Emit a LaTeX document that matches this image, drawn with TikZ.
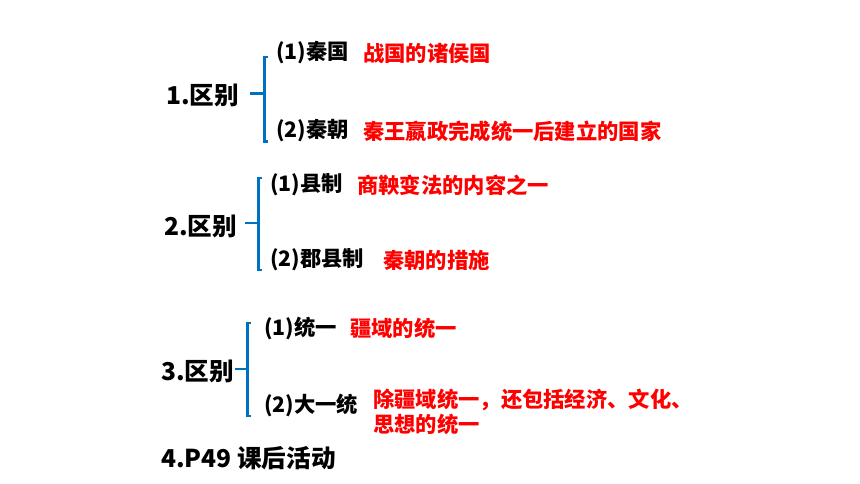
\documentclass[tikz,border=0pt]{standalone}
\usepackage{fontspec}
\setmainfont{Noto Sans CJK SC}
\definecolor{bracketblue}{RGB}{0,112,192}
\begin{document}
\begin{tikzpicture}[x=1pt,y=1pt]
\tikzstyle{every node}+=[inner sep=0pt,anchor=west,font=\bfseries\fontsize{21.3}{25}\selectfont]
\tikzstyle{head}=[font=\bfseries\fontsize{24.6}{28}\selectfont]
\tikzstyle{answer}=[red]
\tikzstyle{brace}=[bracketblue,line width=2.2pt]
\useasboundingbox (0,0) rectangle (860,-484);
% 1. qin guo / qin chao
\node [head] (h1) at (166,-95) {1.区别};
\coordinate (b1t) at (268,-57);
\coordinate (b1m) at (264.5,-93.5);
\coordinate (b1b) at (268,-141.5);
\draw [brace] (b1t) -- ++(-3.5,0) |- (b1b);
\draw [brace] (b1m) -- ++(-14.5,0);
\node (i11) at (276,-53) {(1)秦国};
\node [answer] (a11) at (363,-53) {战国的诸侯国};
\node (i12) at (276,-131) {(2)秦朝};
\node [answer] (a12) at (363,-131) {秦王嬴政完成统一后建立的国家};
% 2. xian zhi / jun xian zhi
\node [head] (h2) at (164,-226) {2.区别};
\coordinate (b2t) at (262,-178);
\coordinate (b2m) at (258.5,-223);
\coordinate (b2b) at (262,-270);
\draw [brace] (b2t) -- ++(-3.5,0) |- (b2b);
\draw [brace] (b2m) -- ++(-13.5,0);
\node (i21) at (270,-185) {(1)县制};
\node [answer] (a21) at (357,-185) {商鞅变法的内容之一};
\node (i22) at (270,-260) {(2)郡县制};
\node [answer] (a22) at (383,-260) {秦朝的措施};
% 3. tong yi / da yi tong
\node [head] (h3) at (161,-371) {3.区别};
\coordinate (b3t) at (251,-323);
\coordinate (b3m) at (247.5,-369);
\coordinate (b3b) at (251,-416);
\draw [brace] (b3t) -- ++(-3.5,0) |- (b3b);
\draw [brace] (b3m) -- ++(-12.5,0);
\node (i31) at (264,-328) {(1)统一};
\node [answer] (a31) at (350,-328) {疆域的统一};
\node (i32) at (264,-405) {(2)大一统};
\node [answer,align=left] (a32) at (373,-411.5) {除疆域统一，还包括经济、文化、\\思想的统一};
% 4.
\node [head] (h4) at (161,-458) {4.P49 课后活动};
\end{tikzpicture}
\end{document}
